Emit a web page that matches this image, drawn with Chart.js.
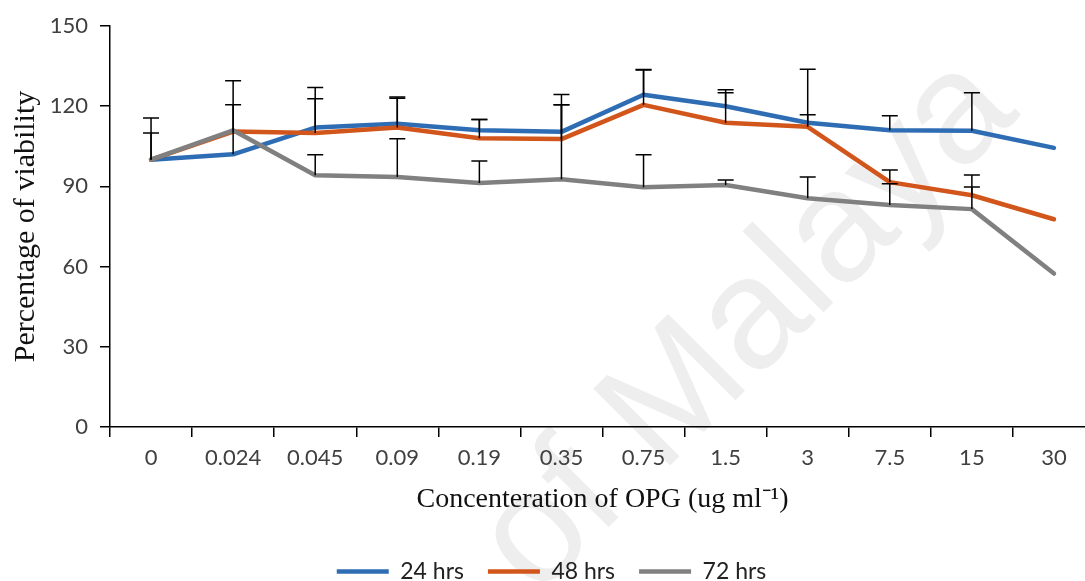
<!DOCTYPE html>
<html>
<head>
<meta charset="utf-8">
<script src="https://cdn.jsdelivr.net/npm/chart.js@4"></script>
<style>
  html, body { margin: 0; padding: 0; background: #fff; overflow: hidden; }
  #wrap { position: relative; width: 1095px; height: 581px; }
  #marca {
    position: absolute; left: 740px; top: 318px;
    transform: translate(-50%, -50%) rotate(-45deg);
    font: 158px "Liberation Sans", Arial, sans-serif; line-height: 1;
    color: #eeeeee; white-space: nowrap;
  }
  #grafico { position: relative; z-index: 1; }
</style>
</head>
<body>
<div id="wrap">
  <div id="marca">of Malaya</div>
  <canvas id="grafico" width="1095" height="581"></canvas>
</div>
<script>
const concentracoes = ["0", "0.024", "0.045", "0.09", "0.19", "0.35", "0.75", "1.5", "3", "7.5", "15", "30"];
const ticksY = [0, 30, 60, 90, 120, 150];

const viab24 = [100, 102, 112, 113.4, 111, 110.4, 124.3, 120, 113.8, 111, 110.8, 104.4];
const viab48 = [100, 110.5, 110, 112, 108, 107.7, 120.5, 113.8, 112.3, 91.6, 86.7, 77.7];
const viab72 = [100, 111, 94.2, 93.5, 91.3, 92.7, 89.7, 90.5, 85.6, 83, 81.5, 57.4];

// erro padrao (so a parte positiva aparece no grafico)
const erro24 = [15.6, 18.5, 15, 10, 4, 14, 9.4, 6.2, 20, 5.4, 14.2, 0];
const erro48 = [10, 19, 12.8, 11, 7, 12.8, 13, 11.2, 4.5, 4.5, 7.6, 0];
const erro72 = [0, 0, 7.6, 14.3, 8.2, 27.8, 12.1, 1.9, 7.9, 8, 8.3, 0];

const fonteTicks = { family: "Lato", size: 22 };
const fonteSerif = "'Liberation Serif', 'Times New Roman', serif";

// desenha as barras de erro usando as escalas do grafico
const barrasErro = {
    id: 'barrasErro',
    afterDatasetsDraw(chart) {
        const ctx = chart.ctx;
        const x = chart.scales.x, y = chart.scales.y;
        ctx.save();
        ctx.strokeStyle = '#000';
        ctx.lineWidth = 1.5;
        chart.data.datasets.forEach(ds => {
            ds.erros.forEach((e, i) => {
                if (!e) return;
                const px = x.getPixelForValue(i);
                const y0 = y.getPixelForValue(ds.data[i]);
                const y1 = y.getPixelForValue(ds.data[i] + e);
                ctx.beginPath();
                ctx.moveTo(px, y0);
                ctx.lineTo(px, y1);
                ctx.moveTo(px - 8, y1);
                ctx.lineTo(px + 8, y1);
                ctx.stroke();
            });
        });
        ctx.restore();
    }
};

function serie(nome, valores, erros, cor, ordem) {
    return {
        label: nome,
        data: valores,
        erros: erros,
        borderColor: cor,
        backgroundColor: cor,
        borderWidth: 4.5,
        borderCapStyle: 'round',
        borderJoinStyle: 'round',
        pointRadius: 0,
        tension: 0,
        order: ordem
    };
}

const ctx = document.getElementById('grafico').getContext('2d');
new Chart(ctx, {
    type: 'line',
    data: {
        labels: concentracoes,
        datasets: [
            serie('24 hrs', viab24, erro24, '#2e6db4', 3),
            serie('48 hrs', viab48, erro48, '#d2561b', 2),
            serie('72 hrs', viab72, erro72, '#808080', 1)
        ]
    },
    plugins: [barrasErro],
    options: {
        responsive: false,
        animation: false,
        layout: { padding: { left: 8, top: 26, right: 0, bottom: -12 } },
        plugins: {
            tooltip: { enabled: false },
            legend: {
                position: 'bottom',
                labels: {
                    usePointStyle: true,
                    pointStyle: 'line',
                    pointStyleWidth: 52,
                    padding: 24,
                    color: '#222',
                    font: { family: "Lato", size: 23 },
                    sort: (a, b) => a.datasetIndex - b.datasetIndex
                }
            }
        },
        scales: {
            x: {
                offset: true,
                grid: { offset: true, drawOnChartArea: false, tickLength: 10, color: '#000', lineWidth: 1.5 },
                border: { color: '#000', width: 1.5 },
                ticks: { color: '#404040', font: fonteTicks, padding: 8, maxRotation: 0 },
                title: {
                    display: true,
                    text: 'Concenteration of OPG (ug ml\u207B\u00B9)',
                    color: '#111',
                    font: { family: fonteSerif, size: 28 },
                    padding: { top: 0, bottom: 20 }
                },
                afterFit: s => { s.height = 109; }
            },
            y: {
                min: 0,
                max: 150,
                afterBuildTicks: s => { s.ticks = ticksY.map(v => ({ value: v })); },
                grid: { drawOnChartArea: false, tickLength: 10, color: '#000', lineWidth: 1.5 },
                border: { color: '#000', width: 1.5 },
                ticks: { color: '#404040', font: fonteTicks, padding: 12 },
                title: {
                    display: true,
                    text: 'Percentage of viability',
                    color: '#111',
                    font: { family: fonteSerif, size: 30 },
                    padding: 0
                },
                afterFit: s => { s.width = 102; }
            }
        }
    }
});
</script>
</body>
</html>
